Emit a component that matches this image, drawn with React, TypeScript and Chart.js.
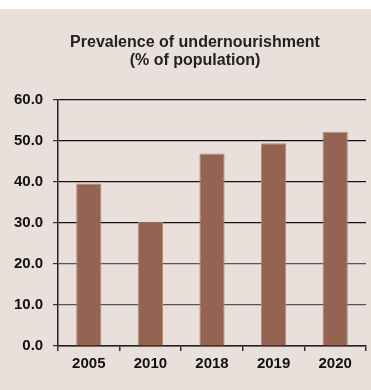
import React, { useEffect, useRef } from "react";
import { Chart, registerables } from "chart.js";

Chart.register(...registerables);

const categories = ["2005", "2010", "2018", "2019", "2020"];
const prevalence = [39.6, 30.3, 46.9, 49.4, 52.2];
const titleLines = ["Prevalence of undernourishment", "(% of population)"];
const yMin = 0;
const yMax = 60;
const yStep = 10;

const BG = "#e9e0dc";
const BAR = "#946352";
const FONT = "'Liberation Sans', Arial, sans-serif";

export default function App() {
  const ref = useRef<HTMLCanvasElement | null>(null);

  useEffect(() => {
    if (!ref.current) return;
    const chart = new Chart(ref.current, {
      type: "bar",
      data: {
        labels: categories,
        datasets: [
          {
            data: prevalence,
            backgroundColor: BAR,
            borderColor: "#b58a78",
            borderWidth: { left: 1, right: 1, top: 1, bottom: 0 },
            borderSkipped: "bottom",
            barPercentage: 0.41,
            categoryPercentage: 1,
          },
        ],
      },
      options: {
        animation: false,
        responsive: false,
        devicePixelRatio: 1,
        layout: { padding: { top: 0, left: 24, right: 5, bottom: 13 } },
        plugins: {
          legend: { display: false },
          tooltip: { enabled: false },
          title: {
            display: true,
            text: titleLines,
            color: "#222",
            font: { family: FONT, size: 16, weight: "bold", lineHeight: 1.15 },
            padding: { top: 24, bottom: 30 },
          },
        },
        scales: {
          x: {
            offset: true,
            grid: {
              offset: true,
              drawOnChartArea: true,
              color: (ctx: any) => (ctx.index === categories.length ? "#333" : "rgba(0,0,0,0)"),
              tickColor: "#333",
              tickLength: 5,
              lineWidth: 1.5,
            },
            border: { display: true, color: "#222", width: 1.5 },
            ticks: {
              color: "#111",
              padding: 4,
              font: { family: FONT, size: 15, weight: "bold" },
            },
          },
          y: {
            min: yMin,
            max: yMax,
            afterFit: (scale: any) => {
              scale.width = 34;
            },
            grid: {
              color: (ctx: any) => {
                const v = ctx.tick ? ctx.tick.value : 0;
                return v > 0 && v <= 20 ? "#555" : "#111";
              },
              tickColor: "#333",
              tickLength: 5,
              lineWidth: 1.2,
            },
            border: { display: true, color: "#222", width: 1.5 },
            ticks: {
              stepSize: yStep,
              mirror: true,
              crossAlign: "far",
              padding: -44,
              color: "#111",
              font: { family: FONT, size: 15, weight: "bold" },
              callback: (v: any) => Number(v).toFixed(1),
            },
          },
        },
      },
    });
    return () => chart.destroy();
  }, []);

  return (
    <div
      style={{
        position: "fixed",
        left: 0,
        top: 0,
        width: 371,
        height: 390,
        background: "#ffffff",
      }}
    >
      <div
        style={{
          position: "absolute",
          left: 0,
          top: 9,
          width: 371,
          height: 381,
          background: BG,
        }}
      >
        <canvas ref={ref} width={371} height={381} style={{ display: "block", width: 371, height: 381 }} />
      </div>
    </div>
  );
}
